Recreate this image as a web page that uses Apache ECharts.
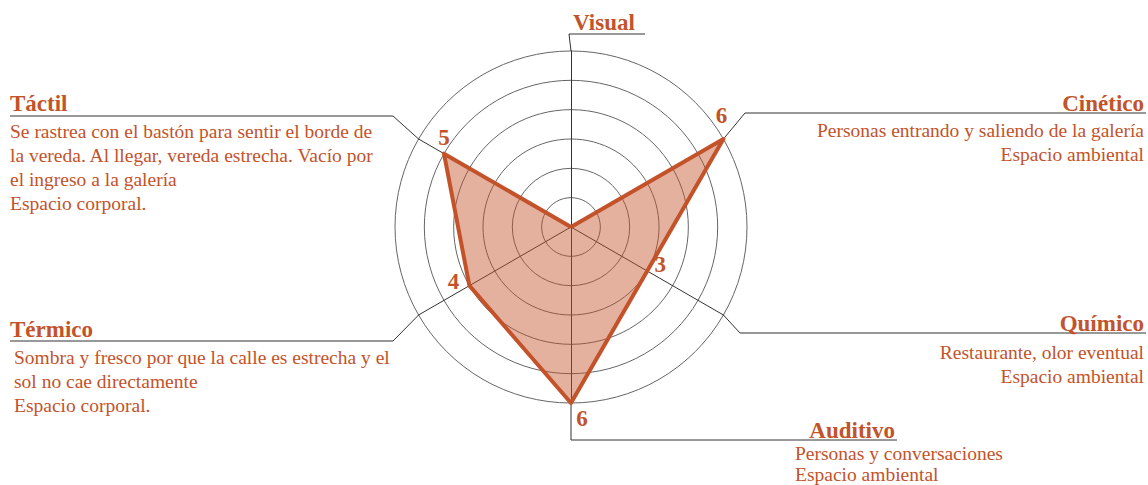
<!DOCTYPE html>
<html>
<head>
<meta charset="utf-8">
<script src="https://cdn.jsdelivr.net/npm/echarts@6/dist/echarts.min.js"></script>
<style>
  html, body { margin: 0; background: #fff; }
  #main { width: 1148px; height: 485px; }
</style>
</head>
<body>
<div id="main"></div>
<script>
// ejes del radar (sentido antihorario desde arriba, como lo ubica echarts)
const categories = ['Visual', 'Táctil', 'Térmico', 'Auditivo', 'Químico', 'Cinético'];
const values = [0, 5, 4, 6, 3, 6];
const maxValue = 6;
const descriptions = [
  [],
  ['Se rastrea con el bastón para sentir el borde de', 'la vereda. Al llegar, vereda estrecha. Vacío por', 'el ingreso a la galería', 'Espacio corporal.'],
  ['Sombra y fresco por que la calle es estrecha y el', 'sol no cae directamente', 'Espacio corporal.'],
  ['Personas y conversaciones', 'Espacio ambiental'],
  ['Restaurante, olor eventual', 'Espacio ambiental'],
  ['Personas entrando y saliendo de la galería', 'Espacio ambiental']
];

const ORANGE = '#c3532a';
const SERIF = '"Liberation Serif", "DejaVu Serif", serif';
const cx = 571, cy = 227, R = 176;

// ubicacion de titulos, textos y lineas guia (solo layout)
const layout = [
  {title: [604, 22, 'center'], desc: null, lead: [[569, 34], [645, 34]]},
  {title: [10, 103, 'left'], desc: [10, 131, 'left', 24], lead: [[393, 116], [10, 116]]},
  {title: [10, 329, 'left'], desc: [14, 357, 'left', 24], lead: [[393, 341], [10, 341]]},
  {title: [895, 430, 'right'], desc: [795, 453, 'left', 21], lead: [[571, 440], [897, 440]]},
  {title: [1144, 323, 'right'], desc: [1144, 352, 'right', 24], lead: [[740, 333], [1146, 333]]},
  {title: [1144, 103, 'right'], desc: [1144, 130, 'right', 24], lead: [[745, 113], [1146, 113]]}
];
// desplazamiento de cada numero respecto a su vertice [arriba, der, abajo, izq]
const labelPad = [
  [0, 0, 0, 0],
  [0, 0, 32, 0],
  [0, 32, 8, 0],
  [30, 0, 0, 22],
  [0, 0, 14, 26],
  [0, 4, 48, 0]
];

const graphics = [];
categories.forEach(function (name, i) {
  const L = layout[i];
  const ang = Math.PI / 2 + i * Math.PI * 2 / categories.length;
  const start = [cx + R * Math.cos(ang), cy - R * Math.sin(ang)];
  graphics.push({
    type: 'polyline', z: 1, silent: true,
    shape: {points: [start].concat(L.lead)},
    style: {stroke: '#333', lineWidth: 1, fill: null}
  });
  graphics.push({
    type: 'text', z: 5,
    style: {
      text: name, x: L.title[0], y: L.title[1], align: L.title[2], verticalAlign: 'middle',
      fill: ORANGE, font: 'bold 23px ' + SERIF
    }
  });
  if (L.desc) {
    descriptions[i].forEach(function (line, k) {
      graphics.push({
        type: 'text', z: 5,
        style: {
          text: line, x: L.desc[0], y: L.desc[1] + k * L.desc[3], align: L.desc[2], verticalAlign: 'middle',
          fill: ORANGE, font: '19.5px ' + SERIF
        }
      });
    });
  }
});

const rich = {};
labelPad.forEach(function (p, i) {
  rich['d' + i] = {padding: p, color: ORANGE, fontSize: 23, fontWeight: 'bold', fontFamily: SERIF};
});

const chart = echarts.init(document.getElementById('main'), null, {renderer: 'svg'});
chart.setOption({
  animation: false,
  backgroundColor: '#fff',
  radar: {
    center: [cx, cy],
    radius: R,
    startAngle: 90,
    splitNumber: maxValue,
    shape: 'circle',
    indicator: categories.map(function (c) { return {name: c, min: 0, max: maxValue}; }),
    axisName: {show: false},
    axisLine: {lineStyle: {color: '#333', width: 1}},
    splitLine: {lineStyle: {color: '#666', width: 1}},
    splitArea: {show: false},
    axisTick: {show: false},
    axisLabel: {show: false}
  },
  series: [{
    type: 'radar',
    symbol: 'circle',
    symbolSize: 1,
    itemStyle: {color: ORANGE},
    lineStyle: {color: ORANGE, width: 4},
    areaStyle: {color: ORANGE, opacity: 0.45},
    label: {
      show: true,
      position: 'inside',
      formatter: function (p) {
        if (!p.value) return '';
        return '{d' + p.dimensionIndex + '|' + p.value + '}';
      },
      rich: rich
    },
    data: [{value: values, name: 'Sentidos'}]
  }],
  graphic: graphics
});
</script>
</body>
</html>
